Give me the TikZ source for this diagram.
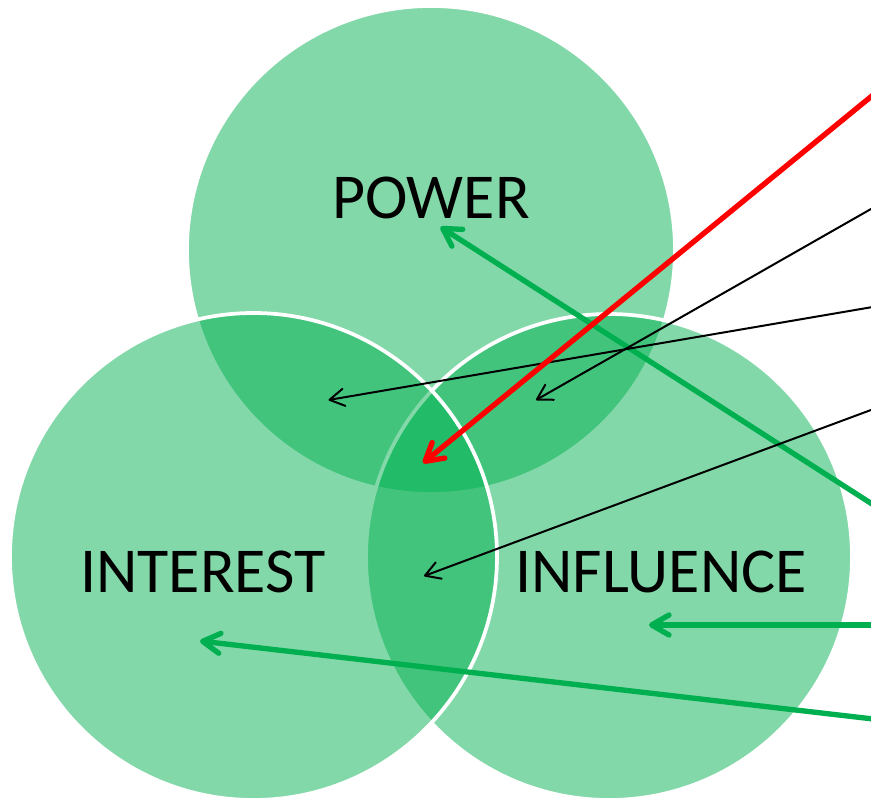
\documentclass[tikz,border=0pt]{standalone}
\usepackage{fontspec}
\setmainfont{Carlito}
\usetikzlibrary{arrows.meta}
\definecolor{offgreen}{HTML}{00B050}
\definecolor{offred}{HTML}{FF0000}
\begin{document}
\begin{tikzpicture}[x=0.75pt,y=-0.75pt,
  venn/.style={draw=white, line width=2.8pt, fill=offgreen, fill opacity=0.49, draw opacity=1},
  lbl/.style={font=\fontsize{48}{58}\selectfont, text=black, inner sep=0pt, anchor=base},
  thickarrow/.style={line width=4pt, line cap=round, -{Straight Barb[length=13pt,width=15pt,round]}},
  thinarrow/.style={line width=1.5pt, black, -{Straight Barb[length=11pt,width=13pt,round]}}
]
\useasboundingbox (0,0) rectangle (871,802);
\coordinate (cP) at (431,250);
\coordinate (cF) at (609,557);
\coordinate (cI) at (253.5,556.5);
% circles
\path[venn] (cP) circle[radius=244];
\path[venn] (cF) circle[radius=243];
\path[venn] (cI) circle[radius=243.5];
% labels
\node[lbl] (tPower) at (431,219) {POWER};
\node[lbl] (tInterest) at (203,592) {INTEREST};
\node[lbl] (tInfluence) at (661,592) {INFLUENCE};
% connector ends
\coordinate (sG1) at (875,505.9);
\coordinate (eG1) at (440.5,227);
\coordinate (sG2) at (875,625);
\coordinate (eG2) at (649,625);
\coordinate (sG3) at (875,719.2);
\coordinate (eG3) at (200,641);
\coordinate (sB1) at (875,206.7);
\coordinate (eB1) at (536,400);
\coordinate (sB2) at (875,306.6);
\coordinate (eB2) at (328.5,400);
\coordinate (sB3) at (875,408.5);
\coordinate (eB3) at (424,576);
\coordinate (sR) at (875,93.4);
\coordinate (eR) at (423,463);
% connectors
\draw[thickarrow, offgreen] (sG1) -- (eG1);
\draw[thickarrow, offgreen] (sG2) -- (eG2);
\draw[thickarrow, offgreen] (sG3) -- (eG3);
\draw[thinarrow] (sB1) -- (eB1);
\draw[thinarrow] (sB2) -- (eB2);
\draw[thinarrow] (sB3) -- (eB3);
\draw[thickarrow, offred] (sR) -- (eR);
\end{tikzpicture}
\end{document}
